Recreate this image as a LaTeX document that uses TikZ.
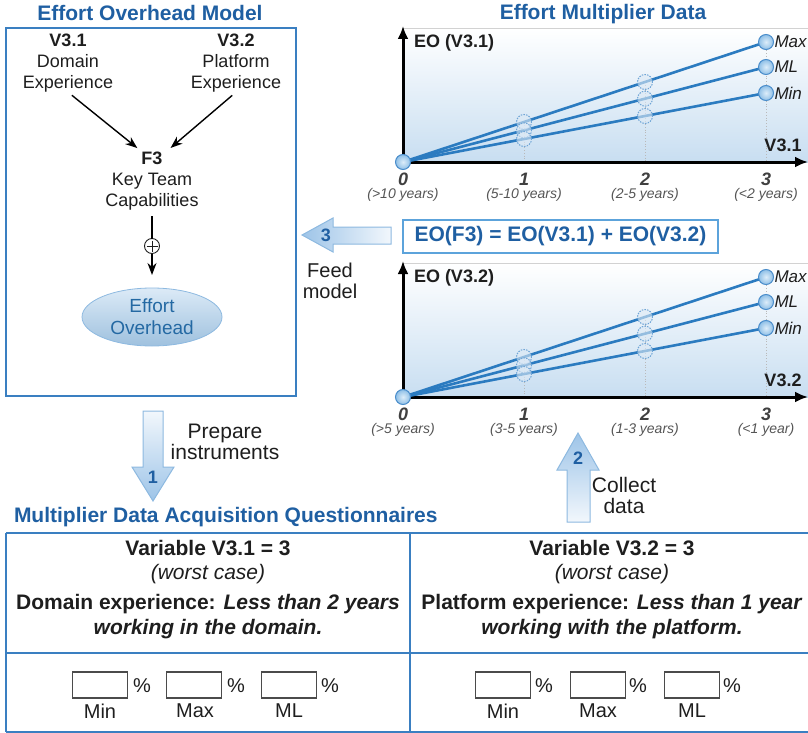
\documentclass[tikz,border=0pt]{standalone}
\usepackage{fontspec}
\setmainfont{Liberation Sans}
\usetikzlibrary{arrows.meta,shapes.geometric,calc}
\definecolor{ttlblue}{HTML}{1F5FA2}
\definecolor{boxblue}{HTML}{3A7FC1}
\definecolor{lineblue}{HTML}{2B7BC0}
\definecolor{eqborder}{HTML}{5CA3DB}
\definecolor{dotin}{HTML}{DDEDF9}
\definecolor{dotout}{HTML}{8EBFE7}
\definecolor{dotfill}{HTML}{A7CBEA}
\definecolor{dotdraw}{HTML}{4A8DCB}
\definecolor{midfill}{HTML}{DCE9F5}
\definecolor{middraw}{HTML}{6FA5D6}
\definecolor{arrtip}{HTML}{9DC4E8}
\definecolor{arrtail}{HTML}{F2F7FC}
\definecolor{arrdraw}{HTML}{8DB9E0}
\definecolor{chartbg}{HTML}{C8DEF1}
\definecolor{txt}{HTML}{1E1E1E}
\definecolor{subtxt}{HTML}{555555}
\newcommand\fs[2]{\fontsize{#1}{#2}\selectfont}
\newcommand\mychart[8]{%
\begin{scope}[shift={(0,#1)}]
  \shade[top color=white, bottom color=chartbg] (403,28) rectangle (808,162);
  \draw[gray!35, line width=0.8pt] (403,28) -- (808,28);
  \coordinate (#2o) at (403,162);
  \coordinate (#2a) at (766,42);
  \coordinate (#2b) at (766,67);
  \coordinate (#2c) at (766,93);
  \coordinate (#2a1) at ($(#2o)!1/3!(#2a)$);
  \coordinate (#2b1) at ($(#2o)!1/3!(#2b)$);
  \coordinate (#2c1) at ($(#2o)!1/3!(#2c)$);
  \coordinate (#2a2) at ($(#2o)!2/3!(#2a)$);
  \coordinate (#2b2) at ($(#2o)!2/3!(#2b)$);
  \coordinate (#2c2) at ($(#2o)!2/3!(#2c)$);
  \coordinate (#2ytop) at (403,26);
  \coordinate (#2xend) at (808,162);
  \draw[gridl] (#2a1) -- (#2a1 |- #2o);
  \draw[gridl] (#2a2) -- (#2a2 |- #2o);
  \draw[gridl] (#2a) -- (#2a |- #2o);
  \draw[axisl] (#2o) -- (#2ytop);
  \draw[axisl] (#2o) -- (#2xend);
  \draw[dline] (#2o) -- (#2a);
  \draw[dline] (#2o) -- (#2b);
  \draw[dline] (#2o) -- (#2c);
  \node[midpt] (#2A1) at (#2a1) {};
  \node[midpt] (#2B1) at (#2b1) {};
  \node[midpt] (#2C1) at (#2c1) {};
  \node[midpt] (#2A2) at (#2a2) {};
  \node[midpt] (#2B2) at (#2b2) {};
  \node[midpt] (#2C2) at (#2c2) {};
  \node[endpt] (#2O) at (#2o) {};
  \node[endpt] (#2A) at (#2a) {};
  \node[endpt] (#2B) at (#2b) {};
  \node[endpt] (#2C) at (#2c) {};
  \node[serlab] (#2Amax) at ([xshift=1pt]#2A.east) {Max};
  \node[serlab] (#2Bml) at ([xshift=1pt]#2B.east) {ML};
  \node[serlab] (#2Cmin) at ([xshift=1pt]#2C.east) {Min};
  \node[axlab, anchor=west] (#2ylab) at (414,43) {#3};
  \node[axlab] (#2xlab) at (783,145) {#4};
  \node[ticknum] (#2t0) at (403,179) {0};
  \node[ticknum] (#2t1) at (524,179) {1};
  \node[ticknum] (#2t2) at (645,179) {2};
  \node[ticknum] (#2t3) at (766,179) {3};
  \node[ticksub] (#2s0) at (403,195) {#5};
  \node[ticksub] (#2s1) at (524,195) {#6};
  \node[ticksub] (#2s2) at (645,195) {#7};
  \node[ticksub] (#2s3) at (766,195) {#8};
\end{scope}}
\begin{document}
\begin{tikzpicture}[x=1pt,y=-1pt,
  every node/.style={inner sep=0pt, outer sep=0pt, text=txt},
  ttl/.style={font=\fs{21}{24}\bfseries, text=ttlblue},
  body/.style={font=\fs{18}{21}, align=center},
  boxline/.style={draw=boxblue, line width=2pt},
  blackarr/.style={line width=1.4pt, -{Stealth[length=12pt,width=9pt]}},
  gridl/.style={gray!55, dotted, line width=0.8pt},
  axisl/.style={line width=3pt, -{Latex[length=13pt,width=11pt]}},
  dline/.style={lineblue, line width=2.6pt},
  endpt/.style={circle, minimum size=15pt, inner color=dotin, outer color=dotout, draw=dotdraw, line width=1pt},
  midpt/.style={circle, minimum size=15pt, fill=midfill, fill opacity=0.6, draw=middraw, dashed, dash pattern=on 1.5pt off 1.2pt, line width=1pt},
  serlab/.style={font=\fs{17}{20}\itshape, anchor=west},
  axlab/.style={font=\fs{18}{21}\bfseries},
  ticknum/.style={font=\fs{18}{21}\bfseries\itshape, text=txt!85},
  ticksub/.style={font=\fs{14}{16}\itshape, text=subtxt},
  blockarr/.style={draw=arrdraw, line width=1pt},
  arrnum/.style={font=\fs{18}{21}\bfseries, text=ttlblue},
  tline/.style={draw=boxblue, line width=2pt},
  inbox/.style={draw=txt!80, line width=1.3pt, minimum width=55pt, minimum height=26pt},
  pct/.style={font=\fs{20}{23}},
  inlab/.style={font=\fs{20}{23}}
]
\useasboundingbox (0,0) rectangle (808,733);

% ---------- Effort Overhead Model ----------
\node[ttl] (tmodel) at (150,13) {Effort Overhead Model};
\draw[boxline] (6,28) rectangle (296,396);
\node[body] (v31) at (68,63) {\textbf{V3.1}\\Domain\\Experience};
\node[body] (v32) at (236,63) {\textbf{V3.2}\\Platform\\Experience};
\node[body] (f3) at (152,181) {\textbf{F3}\\Key Team\\Capabilities};
\node[circle, draw=txt, line width=0.9pt, minimum size=15pt,
  path picture={\draw[line width=0.9pt] ([xshift=2pt]path picture bounding box.west) -- ([xshift=-2pt]path picture bounding box.east);
  \draw[line width=0.9pt] ([yshift=-2pt]path picture bounding box.north) -- ([yshift=2pt]path picture bounding box.south);}] (plus) at (152,246) {};
\node[ellipse, minimum width=140pt, minimum height=58pt, top color=white!60!dotfill, bottom color=dotfill!95!black, draw=arrdraw, line width=0.8pt,
  font=\fs{19}{22}, align=center, text=lineblue!85!black] (eo) at (152,317) {Effort\\Overhead};
\draw[blackarr, shorten <=5pt, shorten >=6pt] (v31.south) -- ([xshift=-10pt]f3.north);
\draw[blackarr, shorten <=5pt, shorten >=6pt] (v32.south) -- ([xshift=14pt]f3.north);
\draw[line width=1.4pt, shorten <=6pt] (f3.south) -- (plus.north);
\draw[blackarr, shorten >=13pt] (plus.south) -- (eo.north);

% ---------- Effort Multiplier Data ----------
\node[ttl] (tdata) at (603,14) {Effort Multiplier Data};
\mychart{0}{u}{EO (V3.1)}{V3.1}{(>10 years)}{(5-10 years)}{(2-5 years)}{(<2 years)}
\mychart{235}{w}{EO (V3.2)}{V3.2}{(>5 years)}{(3-5 years)}{(1-3 years)}{(<1 year)}

% equation box
\node[draw=eqborder, line width=1.5pt, minimum width=315pt, minimum height=33pt,
  font=\fs{21}{24}\bfseries, text=ttlblue, fill=white] (eq) at (560.5,236.5) {EO(F3) = EO(V3.1) + EO(V3.2)};

% arrow 3 (feed model)
\shade[left color=arrtip, right color=arrtail, blockarr]
  (302,235) -- (333,218) -- (333,227) -- (391,227) -- (391,244) -- (333,244) -- (333,252) -- cycle;
\node[arrnum] (n3) at (326,235) {3};
\node[font=\fs{20}{21}, align=center] (feed) at (330,281) {Feed\\model};

% arrow 1 (prepare instruments)
\shade[top color=arrtail, bottom color=arrtip, blockarr]
  (143,411) -- (163,411) -- (163,467) -- (174,467) -- (153,501) -- (132,467) -- (143,467) -- cycle;
\node[arrnum] (n1) at (153,477) {1};
\node[font=\fs{21}{21}, align=center] (prep) at (225,442) {Prepare\\instruments};

% arrow 2 (collect data)
\shade[top color=arrtip, bottom color=arrtail, blockarr]
  (578,433) -- (599,470) -- (590,470) -- (590,522) -- (567,522) -- (567,470) -- (557,470) -- cycle;
\node[arrnum] (n2) at (578,458) {2};
\node[font=\fs{21}{21}, align=center] (coll) at (624,495) {Collect\\data};

% ---------- Questionnaires ----------
\node[ttl, anchor=west] (tq) at (14,517) {Multiplier Data Acquisition Questionnaires};
\draw[tline] (6,533) -- (812,533);
\draw[tline] (6,732) -- (812,732);
\draw[tline] (6,533) -- (6,732);
\draw[tline] (410,533) -- (410,732);
\draw[tline] (6,653) -- (812,653);

\node[font=\fs{21}{24}\bfseries] (lv) at (208,548) {Variable V3.1 = 3};
\node[font=\fs{21}{24}\itshape] (lw) at (208,574) {(worst case)};
\node[font=\fs{21}{25}\bfseries, align=center] (ld) at (208,617) {Domain experience: \textit{Less than 2 years}\\\textit{working in the domain.}};
\node[font=\fs{21}{24}\bfseries] (rv) at (612,548) {Variable V3.2 = 3};
\node[font=\fs{21}{24}\itshape] (rw) at (612,574) {(worst case)};
\node[font=\fs{21}{25}\bfseries, align=center] (rd) at (612,617) {Platform experience: \textit{Less than 1 year}\\\textit{working with the platform.}};

% input boxes left
\node[inbox] (lb1) at (100,685) {};
\node[inbox] (lb2) at (194,685) {};
\node[inbox] (lb3) at (289,685) {};
\node[pct] (lp1) at (142,686) {\%};
\node[pct] (lp2) at (236,686) {\%};
\node[pct] (lp3) at (330,686) {\%};
\node[inlab] (ll1) at (100,711) {Min};
\node[inlab] (ll2) at (195,711) {Max};
\node[inlab] (ll3) at (289,711) {ML};
% input boxes right
\node[inbox] (rb1) at (503,685) {};
\node[inbox] (rb2) at (598,685) {};
\node[inbox] (rb3) at (692,685) {};
\node[pct] (rp1) at (544,686) {\%};
\node[pct] (rp2) at (638,686) {\%};
\node[pct] (rp3) at (732,686) {\%};
\node[inlab] (rl1) at (503,711) {Min};
\node[inlab] (rl2) at (598,711) {Max};
\node[inlab] (rl3) at (692,711) {ML};
\end{tikzpicture}
\end{document}
